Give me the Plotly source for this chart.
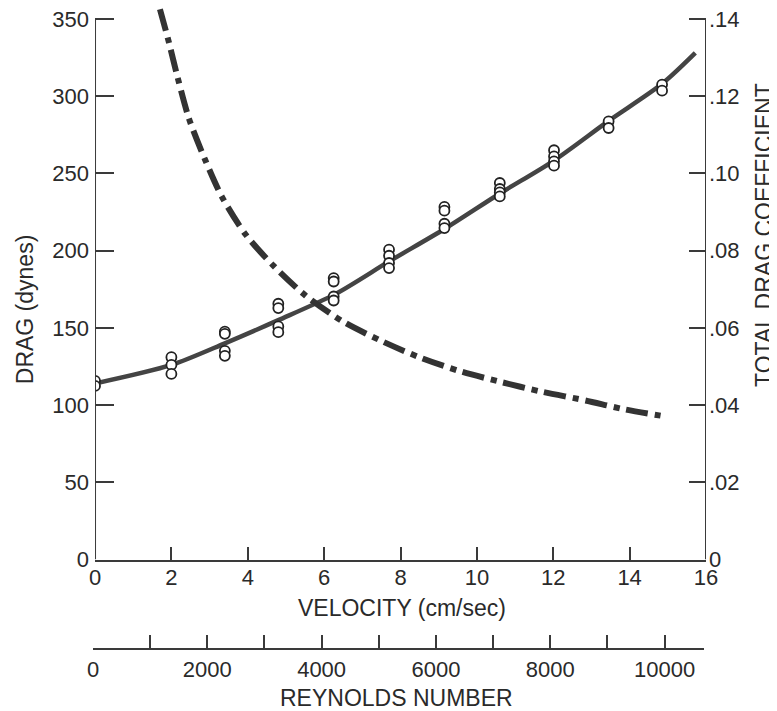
import plotly.graph_objects as go

# ---- data ----
# measured drag (dynes) at each velocity (cm/sec)
point_velocity = [0, 0,
                  2.0, 2.0, 2.0,
                  3.4, 3.4, 3.4, 3.4,
                  4.8, 4.8, 4.8, 4.8,
                  6.25, 6.25, 6.25, 6.25,
                  7.7, 7.7, 7.7, 7.7,
                  9.15, 9.15, 9.15, 9.15,
                  10.6, 10.6, 10.6, 10.6,
                  12.02, 12.02, 12.02, 12.02,
                  13.45, 13.45,
                  14.85, 14.85]
point_drag = [115.7, 112.4,
              131, 126, 120.2,
              147.6, 146.1, 135.1, 131.9,
              165.6, 162.8, 150.9, 147.2,
              182.2, 180, 170.3, 167.7,
              200.6, 196.7, 192, 188.7,
              228.3, 225.9, 217.4, 214.6,
              243.8, 239.9, 237.7, 235.1,
              265, 261, 257.8, 255,
              283.7, 279.4,
              307.5, 303.6]

# fitted drag curve
fit_velocity = [0, 2.0, 3.4, 4.8, 6.3, 7.7, 9.15, 10.6, 12.0, 13.45, 14.85, 15.72]
fit_drag = [114, 126, 140, 155, 172, 193, 214, 237, 258, 284, 308, 328]

# total drag coefficient curve (right axis)
coef_velocity = [1.70, 1.91, 2.17, 2.46, 2.88, 3.32, 3.95, 4.69, 5.52, 6.48,
                 7.48, 8.49, 9.58, 10.58, 11.68, 12.84, 13.86, 14.97]
coef_value = [0.1425, 0.1349, 0.1246, 0.1142, 0.1036, 0.0940, 0.0841, 0.0759,
              0.0683, 0.0617, 0.0567, 0.0524, 0.0487, 0.0461, 0.0435, 0.0412,
              0.0389, 0.0370]

# tick labels
velocity_ticks = [0, 2, 4, 6, 8, 10, 12, 14, 16]
drag_ticks = [0, 50, 100, 150, 200, 250, 300, 350]
coef_ticks = [0, 0.02, 0.04, 0.06, 0.08, 0.10, 0.12, 0.14]
coef_labels = ["0", ".02", ".04", ".06", ".08", ".10", ".12", ".14"]
reynolds_ticks = [0, 1000, 2000, 3000, 4000, 5000, 6000, 7000, 8000, 9000, 10000]
reynolds_labels = ["0", "", "2000", "", "4000", "", "6000", "", "8000", "", "10000"]

# ---- styling ----
INK = "#2a2a2a"
LINE = "#3a3a3a"
FONT = dict(family="Liberation Sans, Arial, sans-serif", size=22, color=INK)
TITLE_FONT = dict(family="Liberation Sans, Arial, sans-serif", size=23, color=INK)

DRAG_TOP = 350
DRAG_RANGE_MAX = 357.1          # headroom so the dash-dot curve shows above 350
COEF_PER_DRAG = 0.14 / 350

fig = go.Figure()

fig.add_trace(go.Scatter(
    x=fit_velocity, y=fit_drag, mode="lines",
    line=dict(color="#444444", width=4.5, shape="spline", smoothing=0.8),
    hoverinfo="skip", showlegend=False))

fig.add_trace(go.Scatter(
    x=point_velocity, y=point_drag, mode="markers",
    marker=dict(symbol="circle", size=10, color="white",
                line=dict(color="#222222", width=1.8)),
    hoverinfo="skip", showlegend=False))

fig.add_trace(go.Scatter(
    x=coef_velocity, y=coef_value, mode="lines", yaxis="y2",
    line=dict(color="#333333", width=6, shape="spline", smoothing=0.8,
              dash="22px,7px,6px,7px"),
    hoverinfo="skip", showlegend=False))

# dummy trace so the Reynolds-number axis is drawn
fig.add_trace(go.Scatter(x=[None], y=[None], xaxis="x2", yaxis="y",
                         hoverinfo="skip", showlegend=False))

axis_common = dict(showgrid=False, zeroline=False, tickfont=FONT, automargin=False,
                   ticklabeloverflow="allow",
                   tickcolor=LINE, tickwidth=2, linecolor=LINE, linewidth=2)

# the page body adds an 8px offset, so the figure is 8px smaller than the window
fig.update_layout(
    width=769, height=703, autosize=False,
    margin=dict(l=85, r=71, t=0, b=62, pad=0),
    paper_bgcolor="white", plot_bgcolor="rgba(0,0,0,0)",
    font=FONT,
    xaxis=dict(domain=[0.0033, 1], range=[0, 16], tickvals=velocity_ticks,
               ticks="inside", ticklen=13, showline=True, anchor="y",
               ticklabelstandoff=-3, **axis_common),
    yaxis=dict(domain=[0.1396, 1], range=[0, DRAG_RANGE_MAX], tickvals=drag_ticks,
               ticks="inside", ticklen=19, showline=False, anchor="x",
               ticklabelstandoff=5, **axis_common),
    yaxis2=dict(overlaying="y", side="right", anchor="x",
                range=[0, DRAG_RANGE_MAX * COEF_PER_DRAG],
                tickvals=coef_ticks, ticktext=coef_labels,
                ticks="inside", ticklen=17, showline=False,
                ticklabelstandoff=2, **axis_common),
    xaxis2=dict(domain=[0, 0.9967], range=[0, 10690], anchor="free", position=0,
                tickvals=reynolds_ticks, ticktext=reynolds_labels,
                ticks="inside", ticklen=13, showline=True,
                ticklabelstandoff=1, **axis_common),
)

# vertical axis lines ending at the top tick
for xv in (0, 16):
    fig.add_shape(type="line", xref="x", yref="y", x0=xv, x1=xv, y0=0, y1=DRAG_TOP,
                  line=dict(color=LINE, width=2), layer="above")

# axis titles
fig.add_annotation(text="VELOCITY (cm/sec)", xref="paper", yref="paper",
                   x=0.504, y=0.0632, xanchor="center", yanchor="middle",
                   showarrow=False, font=TITLE_FONT)
fig.add_annotation(text="REYNOLDS NUMBER", xref="paper", yref="paper",
                   x=0.4954, y=-0.0764, xanchor="center", yanchor="middle",
                   showarrow=False, font=TITLE_FONT)
fig.add_annotation(text="DRAG (dynes)", xref="paper", yref="paper",
                   x=-0.111, y=0.530, xanchor="center", yanchor="middle",
                   textangle=-90, showarrow=False, font=TITLE_FONT)
fig.add_annotation(text="TOTAL DRAG COEFFICIENT", xref="paper", yref="paper",
                   x=1.0947, y=0.646, xanchor="center", yanchor="middle",
                   textangle=-90, showarrow=False, font=TITLE_FONT)

fig.write_html("out.html")
